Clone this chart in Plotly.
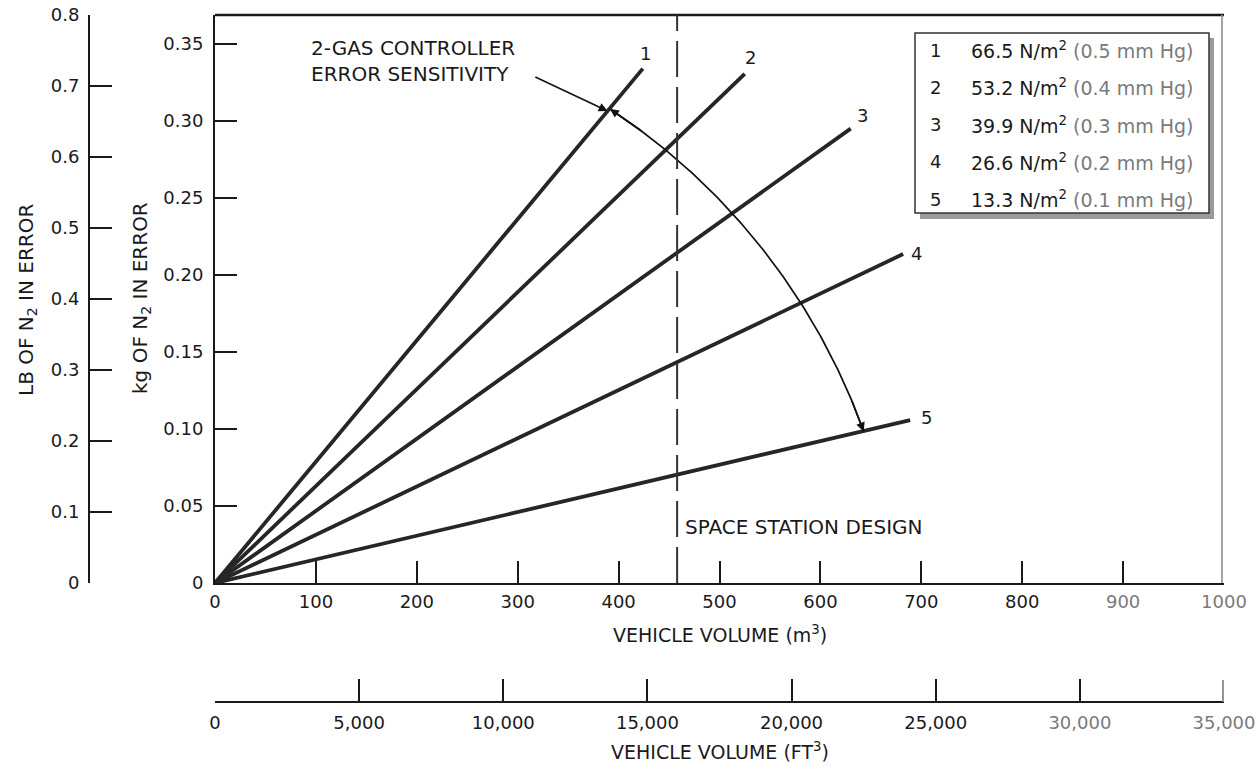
import numpy as np
import plotly.graph_objects as go

W, H = 1257, 772

# ---------------- data ----------------
curve_ids = ["1", "2", "3", "4", "5"]
vol_end_m3 = [424, 525, 630, 682, 689]          # end of each curve (m^3)
kg_end = [0.334, 0.3305, 0.295, 0.2136, 0.1058]  # kg of N2 at that end
pressure_nm2 = ["66.5", "53.2", "39.9", "26.6", "13.3"]
pressure_mmhg = ["0.5", "0.4", "0.3", "0.2", "0.1"]
design_volume_m3 = 458

kg_ticks = [0, 0.05, 0.10, 0.15, 0.20, 0.25, 0.30, 0.35]
kg_ticktext = ["0", "0.05", "0.10", "0.15", "0.20", "0.25", "0.30", "0.35"]
lb_ticks = [0, 0.1, 0.2, 0.3, 0.4, 0.5, 0.6, 0.7, 0.8]
lb_ticktext = ["0", "0.1", "0.2", "0.3", "0.4", "0.5", "0.6", "0.7", "0.8"]
m3_ticks = [0, 100, 200, 300, 400, 500, 600, 700, 800, 900, 1000]
m3_ticktext = ["0", "100", "200", "300", "400", "500", "600", "700", "800", "900", "1000"]
ft3_ticks = [0, 5000, 10000, 15000, 20000, 25000, 30000, 35000]
ft3_ticktext = ["0", "5,000", "10,000", "15,000", "20,000", "25,000", "30,000", "35,000"]

# ---------------- style / layout ----------------
FONT = "DejaVu Sans"
INK = "#1a1a1a"
FADE = "#7a7a7a"
faded_m3 = {"900", "1000"}
faded_ft3 = {"30,000", "35,000"}

def px_x(px):
    return px / W

def px_y(py):
    return 1 - py / H

X0, X1 = px_x(215), px_x(1224)
Y0, Y1 = px_y(583), px_y(15)
KG_MAX = 0.3688
LB_MAX = 0.8
M3_MAX = 1000
FT3_MAX = 35000

fig = go.Figure()

for cid, xe, ye in zip(curve_ids, vol_end_m3, kg_end):
    fig.add_trace(go.Scatter(
        x=[0, xe], y=[0, ye], mode="lines",
        line=dict(color="#262626", width=3.8),
        showlegend=False, hoverinfo="skip"))

# arc "error sensitivity" (circle in screen space)
arc_cx, arc_cy = 37, -0.0445
arc_rx, arc_ry = 644, 0.422
t0, t1 = 56.6, 19.8
tt = np.radians(np.linspace(t0, t1, 120))
arc_x = arc_cx + arc_rx * np.cos(tt)
arc_y = arc_cy + arc_ry * np.sin(tt)
fig.add_trace(go.Scatter(x=arc_x, y=arc_y, mode="lines",
                         line=dict(color="#111", width=1.7),
                         showlegend=False, hoverinfo="skip"))

def arc_pt(deg):
    r = np.radians(deg)
    return float(arc_cx + arc_rx * np.cos(r)), float(arc_cy + arc_ry * np.sin(r))

# invisible traces to activate secondary axes
fig.add_trace(go.Scatter(x=[0], y=[0], xaxis="x2", yaxis="y", mode="markers",
                         marker=dict(opacity=0), showlegend=False, hoverinfo="skip"))
fig.add_trace(go.Scatter(x=[0], y=[0], xaxis="x", yaxis="y2", mode="markers",
                         marker=dict(opacity=0), showlegend=False, hoverinfo="skip"))

tickfont = dict(family=FONT, size=18, color=INK)

fig.update_layout(
    width=W, height=H,
    margin=dict(l=0, r=0, t=0, b=0, autoexpand=False),
    paper_bgcolor="white", plot_bgcolor="white",
    showlegend=False,
    xaxis=dict(domain=[X0, X1], range=[0, M3_MAX], showgrid=False, zeroline=False,
               showline=True, linewidth=2, linecolor=INK,
               ticks="inside", ticklen=22, tickwidth=2, tickcolor=INK,
               tickvals=m3_ticks,
               ticktext=[f"<span style='color:{FADE}'>{t}</span>" if t in faded_m3 else t
                         for t in m3_ticktext],
               tickfont=tickfont, ticklabelstandoff=1, fixedrange=True, automargin=False),
    xaxis2=dict(overlaying="x", anchor="free", position=px_y(702), side="bottom",
                domain=[X0, X1], range=[0, FT3_MAX], showgrid=False, zeroline=False,
                showline=True, linewidth=2, linecolor=INK,
                ticks="inside", ticklen=22, tickwidth=2, tickcolor=INK,
                tickvals=ft3_ticks,
                ticktext=[f"<span style='color:{FADE}'>{t}</span>" if t in faded_ft3 else t
                          for t in ft3_ticktext],
                tickfont=tickfont, ticklabelstandoff=4, fixedrange=True, automargin=False),
    yaxis=dict(domain=[Y0, Y1], range=[0, KG_MAX], showgrid=False, zeroline=False,
               showline=True, linewidth=2, linecolor=INK,
               ticks="inside", ticklen=22, tickwidth=2, tickcolor=INK,
               tickvals=kg_ticks, ticktext=kg_ticktext,
               tickfont=tickfont, ticklabelstandoff=6, fixedrange=True, automargin=False),
    yaxis2=dict(overlaying="y", anchor="free", position=px_x(89), side="left",
                range=[0, LB_MAX], showgrid=False, zeroline=False,
                showline=True, linewidth=2, linecolor=INK,
                ticks="inside", ticklen=22, tickwidth=2, tickcolor=INK,
                tickvals=lb_ticks, ticktext=lb_ticktext,
                tickfont=tickfont, ticklabelstandoff=5, fixedrange=True, automargin=False),
)

shapes = []
# frame top and right
shapes.append(dict(type="line", xref="paper", yref="paper", x0=X0, x1=X1, y0=Y1, y1=Y1,
                   line=dict(color=INK, width=2.5)))
shapes.append(dict(type="line", xref="paper", yref="paper", x0=X1 - px_x(2), x1=X1 - px_x(2),
                   y0=Y0, y1=Y1, line=dict(color="#9a9a9a", width=1.8)))
# right-end ticks (at the range limit)
shapes.append(dict(type="line", xref="paper", yref="paper", x0=X1 - px_x(1), x1=X1 - px_x(1),
                   y0=px_y(702), y1=px_y(680), line=dict(color="#8a8a8a", width=1.8)))
# design volume dashed line
shapes.append(dict(type="line", xref="x", yref="y", x0=design_volume_m3, x1=design_volume_m3,
                   y0=0, y1=KG_MAX, line=dict(color="#333", width=2, dash="36px,10px")))
# legend box with shadow
shapes.append(dict(type="rect", xref="paper", yref="paper",
                   x0=px_x(920), x1=px_x(1214), y0=px_y(219), y1=px_y(38),
                   fillcolor="#9a9a9a", line=dict(width=0), layer="above"))
shapes.append(dict(type="rect", xref="paper", yref="paper",
                   x0=px_x(915), x1=px_x(1209), y0=px_y(213), y1=px_y(33),
                   fillcolor="white", line=dict(color="#333", width=1.5), layer="above"))
fig.update_layout(shapes=shapes)

ann = []
# curve labels
label_shift = [(3, 15), (6, 16), (12, 13), (13, 1), (16, 3)]
for cid, xe, ye, (dx, dy) in zip(curve_ids, vol_end_m3, kg_end, label_shift):
    ann.append(dict(x=xe, y=ye, xref="x", yref="y", text=cid, showarrow=False,
                    xshift=dx, yshift=dy, font=dict(family=FONT, size=18, color=INK)))

# legend rows
for i, (cid, pn, pm) in enumerate(zip(curve_ids, pressure_nm2, pressure_mmhg)):
    yrow = px_y(50 + i * 37.3)
    ann.append(dict(x=px_x(935), y=yrow, xref="paper", yref="paper", text=cid,
                    showarrow=False, xanchor="center", yanchor="middle",
                    font=dict(family=FONT, size=18, color=INK)))
    ann.append(dict(x=px_x(969), y=yrow, xref="paper", yref="paper",
                    text=f"{pn} N/m<sup>2</sup> <span style='color:{FADE}'>({pm} mm Hg)</span>",
                    showarrow=False, xanchor="left", yanchor="middle",
                    font=dict(family=FONT, size=19, color=INK)))

# controller annotation text + arrow
ann.append(dict(x=px_x(309), y=px_y(61), xref="paper", yref="paper",
                text="2-GAS CONTROLLER<br>ERROR SENSITIVITY", align="left",
                showarrow=False, xanchor="left", yanchor="middle",
                font=dict(family=FONT, size=20, color=INK)))
slope1 = kg_end[0] / vol_end_m3[0]
tip_x = 389
ann.append(dict(x=tip_x, y=slope1 * tip_x, xref="x", yref="y",
                ax=316, ay=0.329, axref="x", ayref="y", text="",
                showarrow=True, arrowhead=2, arrowsize=1.1, arrowwidth=1.6,
                arrowcolor="#111", standoff=0))
# arc arrowheads
sx, sy = arc_pt(t0)
bx, by = arc_pt(t0 - 3.5)
ann.append(dict(x=sx, y=sy, xref="x", yref="y", ax=bx, ay=by, axref="x", ayref="y",
                text="", showarrow=True, arrowhead=2, arrowsize=1.1, arrowwidth=1.6,
                arrowcolor="#111", standoff=0))
ex, ey = arc_pt(t1)
cx_, cy_ = arc_pt(t1 + 3.0)
ann.append(dict(x=ex, y=ey, xref="x", yref="y", ax=cx_, ay=cy_, axref="x", ayref="y",
                text="", showarrow=True, arrowhead=2, arrowsize=1.1, arrowwidth=1.6,
                arrowcolor="#111", standoff=0))

# space station design label
ann.append(dict(x=design_volume_m3, y=px_y(527), xref="x", yref="paper",
                text="SPACE STATION DESIGN",
                showarrow=False, xanchor="left", yanchor="middle", xshift=6,
                font=dict(family=FONT, size=20, color=INK)))

# axis titles
ann.append(dict(x=px_x(720), y=px_y(634), xref="paper", yref="paper",
                text="VEHICLE VOLUME (m<sup>3</sup>)", showarrow=False,
                xanchor="center", yanchor="middle", font=dict(family=FONT, size=19, color=INK)))
ann.append(dict(x=px_x(720), y=px_y(751), xref="paper", yref="paper",
                text="VEHICLE VOLUME (FT<sup>3</sup>)", showarrow=False,
                xanchor="center", yanchor="middle", font=dict(family=FONT, size=19, color=INK)))
ann.append(dict(x=px_x(27), y=px_y(300), xref="paper", yref="paper",
                text="LB OF N<sub>2</sub> IN ERROR", showarrow=False, textangle=-90,
                xanchor="center", yanchor="middle", font=dict(family=FONT, size=20, color=INK)))
ann.append(dict(x=px_x(141), y=px_y(298), xref="paper", yref="paper",
                text="kg OF N<sub>2</sub> IN ERROR", showarrow=False, textangle=-90,
                xanchor="center", yanchor="middle", font=dict(family=FONT, size=20, color=INK)))

fig.update_layout(annotations=ann)

fig.write_html("out.html")
